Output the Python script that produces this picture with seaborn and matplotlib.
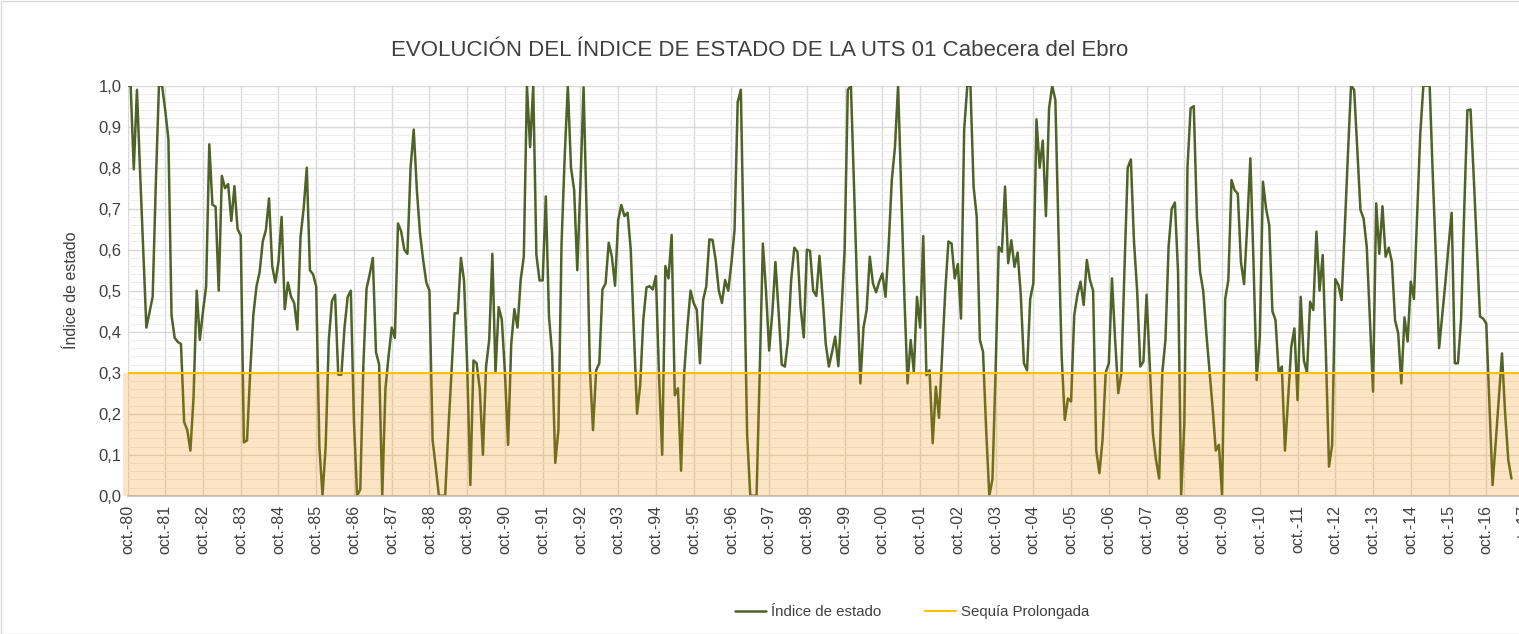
import numpy as np
import pandas as pd
import matplotlib
matplotlib.use("Agg")
import matplotlib.pyplot as plt
from matplotlib.lines import Line2D
from matplotlib.patches import Rectangle
from matplotlib.ticker import MultipleLocator, FuncFormatter
import seaborn as sns

# monthly index values, one row per hydrological year (oct -> sep)
indice_estado = [
    1.0, 1.0, 0.796, 0.99, 0.79, 0.6, 0.41, 0.447, 0.485, 0.76, 1.0, 1.0,            # 80-81
    0.94, 0.87, 0.44, 0.385, 0.375, 0.37, 0.18, 0.16, 0.11, 0.24, 0.50, 0.38,        # 81-82
    0.45, 0.51, 0.857, 0.71, 0.705, 0.50, 0.78, 0.75, 0.76, 0.67, 0.755, 0.65,       # 82-83
    0.635, 0.13, 0.135, 0.30, 0.44, 0.51, 0.545, 0.62, 0.648, 0.725, 0.56, 0.52,     # 83-84
    0.57, 0.68, 0.455, 0.52, 0.485, 0.47, 0.405, 0.63, 0.70, 0.80, 0.55, 0.54,       # 84-85
    0.51, 0.12, 0.0, 0.12, 0.38, 0.475, 0.49, 0.295, 0.295, 0.41, 0.485, 0.50,       # 85-86
    0.18, 0.0, 0.015, 0.32, 0.505, 0.54, 0.58, 0.35, 0.32, 0.0, 0.26, 0.34,          # 86-87
    0.41, 0.385, 0.664, 0.645, 0.60, 0.59, 0.80, 0.893, 0.745, 0.64, 0.575, 0.52,    # 87-88
    0.50, 0.136, 0.07, 0.0, 0.0, 0.0, 0.16, 0.30, 0.445, 0.445, 0.58, 0.525,         # 88-89
    0.315, 0.026, 0.33, 0.323, 0.26, 0.10, 0.315, 0.38, 0.59, 0.30, 0.46, 0.43,      # 89-90
    0.30, 0.124, 0.37, 0.455, 0.41, 0.526, 0.583, 1.0, 0.85, 1.0, 0.587, 0.525,      # 90-91
    0.525, 0.73, 0.437, 0.347, 0.08, 0.16, 0.615, 0.827, 1.0, 0.80, 0.746, 0.55,     # 91-92
    0.76, 0.996, 0.68, 0.31, 0.16, 0.306, 0.323, 0.503, 0.518, 0.617, 0.583, 0.512,  # 92-93
    0.672, 0.709, 0.682, 0.69, 0.60, 0.40, 0.20, 0.27, 0.43, 0.508, 0.511, 0.503,    # 93-94
    0.536, 0.29, 0.10, 0.56, 0.53, 0.636, 0.245, 0.262, 0.061, 0.30, 0.41, 0.50,     # 94-95
    0.47, 0.453, 0.323, 0.477, 0.51, 0.625, 0.624, 0.575, 0.50, 0.47, 0.526, 0.50,   # 95-96
    0.567, 0.648, 0.96, 0.99, 0.57, 0.15, 0.0, 0.0, 0.0, 0.30, 0.615, 0.50,          # 96-97
    0.354, 0.445, 0.57, 0.45, 0.32, 0.315, 0.38, 0.526, 0.605, 0.595, 0.46, 0.386,   # 97-98
    0.60, 0.597, 0.50, 0.487, 0.585, 0.484, 0.37, 0.315, 0.35, 0.388, 0.316, 0.45,   # 98-99
    0.60, 0.99, 1.0, 0.75, 0.50, 0.274, 0.41, 0.453, 0.583, 0.518, 0.496, 0.522,     # 99-00
    0.542, 0.485, 0.61, 0.77, 0.85, 1.0, 0.745, 0.485, 0.274, 0.38, 0.302, 0.485,    # 00-01
    0.41, 0.633, 0.294, 0.306, 0.128, 0.266, 0.19, 0.345, 0.50, 0.62, 0.615, 0.53,   # 01-02
    0.565, 0.432, 0.892, 1.0, 1.0, 0.754, 0.68, 0.38, 0.351, 0.16, 0.0, 0.04,        # 02-03
    0.306, 0.607, 0.595, 0.754, 0.567, 0.623, 0.558, 0.593, 0.49, 0.323, 0.306, 0.48,  # 03-04
    0.518, 0.918, 0.80, 0.866, 0.682, 0.945, 1.0, 0.965, 0.64, 0.34, 0.185, 0.237,   # 04-05
    0.23, 0.44, 0.49, 0.522, 0.465, 0.575, 0.526, 0.50, 0.11, 0.055, 0.136, 0.30,    # 05-06
    0.323, 0.53, 0.38, 0.25, 0.30, 0.56, 0.80, 0.82, 0.62, 0.50, 0.315, 0.327,       # 06-07
    0.49, 0.32, 0.152, 0.087, 0.042, 0.30, 0.38, 0.607, 0.70, 0.715, 0.546, 0.0,     # 07-08
    0.176, 0.80, 0.945, 0.95, 0.68, 0.546, 0.50, 0.396, 0.305, 0.214, 0.11, 0.124,   # 08-09
    0.0, 0.48, 0.526, 0.77, 0.745, 0.737, 0.57, 0.516, 0.66, 0.823, 0.567, 0.282,    # 09-10
    0.388, 0.766, 0.70, 0.66, 0.45, 0.428, 0.30, 0.315, 0.11, 0.236, 0.363, 0.408,   # 10-11
    0.233, 0.485, 0.33, 0.30, 0.473, 0.453, 0.644, 0.50, 0.587, 0.35, 0.071, 0.124,  # 11-12
    0.528, 0.514, 0.477, 0.65, 0.83, 1.0, 0.99, 0.844, 0.697, 0.676, 0.607, 0.43,    # 12-13
    0.254, 0.713, 0.59, 0.706, 0.583, 0.605, 0.57, 0.428, 0.396, 0.274, 0.435, 0.376,  # 13-14
    0.522, 0.48, 0.68, 0.88, 1.0, 1.0, 1.0, 0.78, 0.58, 0.36, 0.44, 0.52,            # 14-15
    0.61, 0.69, 0.323, 0.323, 0.432, 0.70, 0.94, 0.942, 0.78, 0.61, 0.437, 0.432,    # 15-16
    0.42, 0.22, 0.026, 0.13, 0.24, 0.347, 0.20, 0.087, 0.042,                        # 16-17
]
umbral_sequia = 0.3

tick_labels = [
    "oct.-80", "oct.-81", "oct.-82", "oct.-83", "oct.-84", "oct.-85", "oct.-86",
    "oct.-87", "oct.-88", "oct.-89", "oct.-90", "oct.-91", "oct.-92", "oct.-93",
    "oct.-94", "oct.-95", "oct.-96", "oct.-97", "oct.-98", "oct.-99", "oct.-00",
    "oct.-01", "oct.-02", "oct.-03", "oct.-04", "oct.-05", "oct.-06", "oct.-07",
    "oct.-08", "oct.-09", "oct.-10", "oct.-11", "oct.-12", "oct.-13", "oct.-14",
    "oct.-15", "oct.-16", "oct.-17",
]

titulo = "EVOLUCIÓN DEL ÍNDICE DE ESTADO DE LA UTS 01 Cabecera del Ebro"
serie_1 = "Índice de estado"
serie_2 = "Sequía Prolongada"

sns.set_theme(style="white")
plt.rcParams["font.family"] = ["Liberation Sans", "DejaVu Sans"]

df = pd.DataFrame({"mes": np.arange(len(indice_estado)), "indice": indice_estado})
tick_pos = np.arange(len(tick_labels)) * 12
x_end = tick_pos[-1]

W, H = 1519, 634
fig = plt.figure(figsize=(W / 100, H / 100), dpi=100)
# plot area runs past the right edge, like the cropped original
ax = fig.add_axes([127.5 / W, 138.3 / H, x_end * 3.1453 / W, 410 / H])

sns.lineplot(data=df, x="mes", y="indice", ax=ax, color="#4f6228",
             linewidth=1.8, zorder=2)

# drought band drawn over the line, semi transparent
ax.fill_between([-1.3, x_end], 0, umbral_sequia, color="#f39200", alpha=0.23,
                linewidth=0, zorder=3, clip_on=False)
ax.axhline(umbral_sequia, color="#ffc000", linewidth=1.5, zorder=4)

ax.set_xlim(0, x_end)
ax.set_ylim(0, 1)
ax.set_xticks(tick_pos)
ax.set_xticklabels(tick_labels, rotation=90, fontsize=11.5, color="#404040")
ax.yaxis.set_major_locator(MultipleLocator(0.1))
ax.yaxis.set_minor_locator(MultipleLocator(0.02))
ax.yaxis.set_major_formatter(FuncFormatter(lambda v, p: f"{v:.1f}".replace(".", ",")))
ax.tick_params(axis="y", labelsize=12, labelcolor="#404040", length=0, pad=4.5)
ax.tick_params(axis="x", length=0, pad=6.5)
ax.tick_params(which="minor", length=0)

ax.set_axisbelow(True)
ax.grid(which="major", axis="both", color="#d9d9d9", linewidth=1.0)
ax.grid(which="minor", axis="y", color="#eeeeee", linewidth=0.8)
for s in ["top", "right", "left"]:
    ax.spines[s].set_visible(False)
ax.spines["bottom"].set_color("#bfbfbf")
ax.set_xlabel("")
ax.set_ylabel("")

fig.text(71 / W, 1 - 290 / H, serie_1, rotation=90, ha="center", va="center",
         fontsize=11.5, color="#404040")
fig.text(760 / W, 1 - 50 / H, titulo, ha="center", va="center", fontsize=16,
         color="#404040")

handles = [Line2D([], [], color="#4f6228", linewidth=1.8),
           Line2D([], [], color="#ffc000", linewidth=1.5)]
fig.legend(handles, [serie_1, serie_2], loc="center",
           bbox_to_anchor=(912 / W, 1 - 612 / H), ncol=2, frameon=False,
           fontsize=10.8, handlelength=2.1, handletextpad=0.3,
           columnspacing=2.9, labelcolor="#404040")

fig.patches.append(Rectangle((0.5 / W, 0.5 / H), 1.2, (H - 1.5) / H,
                             transform=fig.transFigure, fill=False,
                             edgecolor="#d9d9d9", linewidth=1.0))

fig.savefig("out.png", dpi=100)
